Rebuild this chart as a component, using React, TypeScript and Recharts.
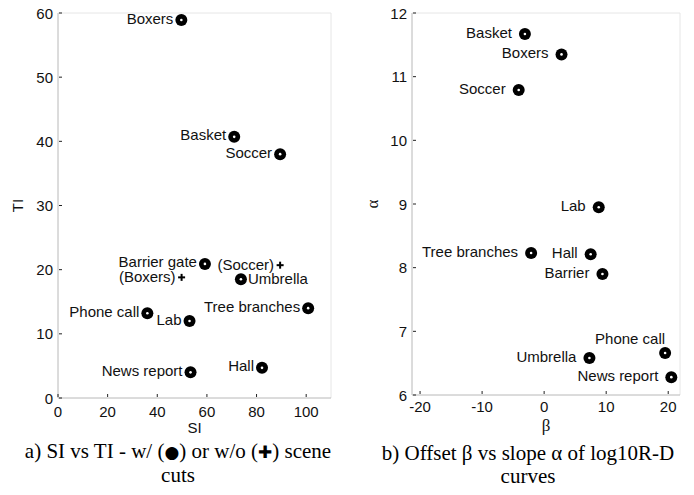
import React from 'react';
import { ScatterChart, Scatter, XAxis, YAxis, ReferenceLine } from 'recharts';

// a) SI vs TI, sequences with scene cuts
const sceneNames = ['Boxers', 'Basket', 'Soccer', 'Barrier gate', 'Umbrella', 'Tree branches', 'Phone call', 'Lab', 'News report', 'Hall'];
const siValues = [49.7, 71, 89.5, 59.2, 73.7, 100.8, 36, 53, 53.4, 82.2];
const tiValues = [58.9, 40.7, 38, 20.9, 18.5, 14, 13.2, 12, 4, 4.7];

// a) sequences without scene cuts
const noCutNames = ['(Soccer)', '(Boxers)'];
const noCutSi = [89.5, 49.8];
const noCutTi = [20.7, 18.8];

// b) offset beta vs slope alpha
const rdNames = ['Basket', 'Boxers', 'Soccer', 'Lab', 'Tree branches', 'Hall', 'Barrier', 'Phone call', 'Umbrella', 'News report'];
const betaValues = [-3.1, 2.8, -4.1, 8.8, -2.1, 7.5, 9.4, 19.5, 7.3, 20.5];
const alphaValues = [11.67, 11.35, 10.79, 8.95, 8.23, 8.21, 7.9, 6.66, 6.58, 6.28];

const siTicks = [0, 20, 40, 60, 80, 100];
const tiTicks = [0, 10, 20, 30, 40, 50, 60];
const betaTicks = [-20, -10, 0, 10, 20];
const alphaTicks = [6, 7, 8, 9, 10, 11, 12];

const SANS = '"Liberation Sans", Arial, sans-serif';
const SERIF = '"Liberation Serif", "Times New Roman", serif';

const toPoints = (names: string[], xs: number[], ys: number[]) =>
  names.map((name, i) => ({ name, x: xs[i], y: ys[i] }));

const sceneData = toPoints(sceneNames, siValues, tiValues);
const noCutData = toPoints(noCutNames, noCutSi, noCutTi);
const rdData = toPoints(rdNames, betaValues, alphaValues);

// where the label sits relative to its marker (default: left)
const sceneLabelSide: Record<string, string> = { Umbrella: 'right' };
const rdLabelSide: Record<string, string> = { 'Phone call': 'above' };

const labelText = (x: number, y: number, anchor: string, s: string) => (
  <text x={x} y={y} textAnchor={anchor} dominantBaseline="central" fontSize={15} fontFamily={SANS} fill="#111">
    {s}
  </text>
);

const makeDot = (sides: Record<string, string>, gap: number) => (props: any) => {
  const { cx, cy, payload } = props;
  const side = sides[payload.name] || 'left';
  let label;
  if (side === 'right') label = labelText(cx + 7, cy - 1, 'start', payload.name);
  else if (side === 'above') label = labelText(cx, cy - 14, 'end', payload.name);
  else label = labelText(cx - gap, cy - 2, 'end', payload.name);
  return (
    <g>
      <circle cx={cx} cy={cy} r={6} fill="#000" />
      <circle cx={cx} cy={cy} r={1.3} fill="#fff" />
      {label}
    </g>
  );
};

const PlusMark = (props: any) => {
  const { cx, cy, payload } = props;
  return (
    <g>
      <line x1={cx - 3.5} x2={cx + 3.5} y1={cy} y2={cy} stroke="#000" strokeWidth={2} />
      <line x1={cx} x2={cx} y1={cy - 3.5} y2={cy + 3.5} stroke="#000" strokeWidth={2} />
      {labelText(cx - 6, cy - 1, 'end', payload.name)}
    </g>
  );
};

const YTick = (props: any) => {
  const { x, y, payload } = props;
  return (
    <g>
      <line x1={x + 1} x2={x + 4} y1={y} y2={y} stroke="#222" />
      <text x={x - 5} y={y} textAnchor="end" dominantBaseline="central" fontSize={15} fontFamily={SANS} fill="#111">
        {payload.value}
      </text>
    </g>
  );
};

const makeXTick = (dy: number) => (props: any) => {
  const { x, y, payload } = props;
  return (
    <g>
      <line x1={x} x2={x} y1={y - 4} y2={y - 1} stroke="#222" />
      <text x={x} y={y + dy} textAnchor="middle" dominantBaseline="central" fontSize={15} fontFamily={SANS} fill="#111">
        {payload.value}
      </text>
    </g>
  );
};

const xTitle = (text: string, dy: number, font: string, size: number) => (props: any) => {
  const vb = props.viewBox;
  return (
    <text x={vb.x + vb.width / 2} y={vb.y + dy} textAnchor="middle" dominantBaseline="central" fontSize={size} fontFamily={font} fill="#111">
      {text}
    </text>
  );
};

const yTitle = (text: string, x: number, font: string, size: number) => (props: any) => {
  const vb = props.viewBox;
  const cy = vb.y + vb.height / 2;
  return (
    <text x={x} y={cy} transform={`rotate(-90 ${x} ${cy})`} textAnchor="middle" dominantBaseline="central" fontSize={size} fontFamily={font} fill="#111">
      {text}
    </text>
  );
};

const captionStyle: React.CSSProperties = {
  position: 'absolute',
  fontFamily: SERIF,
  fontSize: 21,
  lineHeight: '23px',
  textAlign: 'center',
  color: '#000',
  whiteSpace: 'nowrap',
};

const symbolStyle: React.CSSProperties = { fontFamily: '"DejaVu Sans", sans-serif', fontSize: 17 };

export default function App() {
  return (
    <div style={{ position: 'absolute', left: 0, top: 0, width: 694, height: 495, background: '#fff', overflow: 'hidden' }}>
      <div style={{ position: 'absolute', left: 0, top: 0 }}>
        <ScatterChart width={350} height={440} margin={{ top: 13, right: 19, left: 0, bottom: 0 }}>
          <XAxis
            type="number"
            dataKey="x"
            domain={[0, 110]}
            ticks={siTicks}
            height={42}
            tickSize={0}
            tickMargin={0}
            tickLine={false}
            tick={makeXTick(13)}
            axisLine={{ stroke: '#b8b8b8' }}
            label={{ content: xTitle('SI', 29, SANS, 15) }}
          />
          <YAxis
            type="number"
            dataKey="y"
            domain={[0, 60]}
            ticks={tiTicks}
            width={58}
            tickSize={0}
            tickMargin={0}
            tickLine={false}
            tick={YTick}
            axisLine={{ stroke: '#b8b8b8' }}
            label={{ content: yTitle('TI', 17, SANS, 15) }}
          />
          <ReferenceLine y={60} stroke="#e6e6e6" />
          <ReferenceLine x={110} stroke="#e6e6e6" />
          <Scatter data={sceneData} shape={makeDot(sceneLabelSide, 8)} isAnimationActive={false} />
          <Scatter data={noCutData} shape={PlusMark} isAnimationActive={false} />
        </ScatterChart>
      </div>
      <div style={{ position: 'absolute', left: 350, top: 0 }}>
        <ScatterChart width={344} height={440} margin={{ top: 13, right: 14, left: 0, bottom: 0 }}>
          <XAxis
            type="number"
            dataKey="x"
            domain={[-21.3, 21.9]}
            ticks={betaTicks}
            height={45}
            tickSize={0}
            tickMargin={0}
            tickLine={false}
            tick={makeXTick(11)}
            axisLine={{ stroke: '#b8b8b8' }}
            label={{ content: xTitle('β', 30, SERIF, 17) }}
          />
          <YAxis
            type="number"
            dataKey="y"
            domain={[6, 12]}
            ticks={alphaTicks}
            width={62}
            tickSize={0}
            tickMargin={0}
            tickLine={false}
            tick={YTick}
            axisLine={{ stroke: '#b8b8b8' }}
            label={{ content: yTitle('α', 22, SERIF, 17) }}
          />
          <ReferenceLine y={12} stroke="#e6e6e6" />
          <ReferenceLine x={21.9} stroke="#e6e6e6" />
          <Scatter data={rdData} shape={makeDot(rdLabelSide, 13)} isAnimationActive={false} />
        </ScatterChart>
      </div>
      <div style={{ ...captionStyle, left: 0, width: 356, top: 440 }}>
        a) SI vs TI - w/ (<span style={symbolStyle}>●</span>) or w/o (<span style={symbolStyle}>✚</span>) scene
        <br />
        cuts
      </div>
      <div style={{ ...captionStyle, left: 350, width: 356, top: 442 }}>
        b) Offset β vs slope α of log10R-D
        <br />
        curves
      </div>
    </div>
  );
}
